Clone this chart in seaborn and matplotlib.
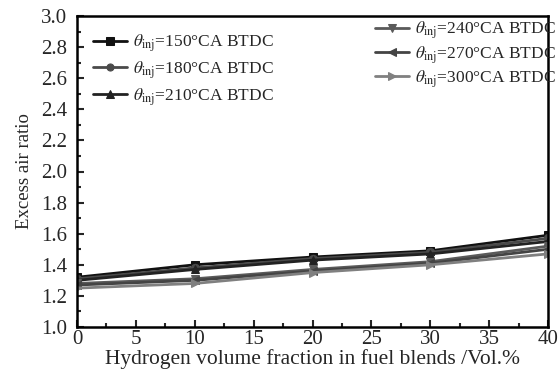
import numpy as np
import pandas as pd
import matplotlib
matplotlib.use("Agg")
import matplotlib.pyplot as plt
from matplotlib.ticker import MultipleLocator
import seaborn as sns

h2 = [0, 10, 20, 30, 40]
timings = ["150", "180", "210", "240", "270", "300"]
v150 = [1.32, 1.40, 1.45, 1.49, 1.59]
v180 = [1.31, 1.38, 1.44, 1.48, 1.57]
v210 = [1.30, 1.37, 1.43, 1.47, 1.55]
v240 = [1.28, 1.31, 1.37, 1.42, 1.52]
v270 = [1.27, 1.30, 1.36, 1.41, 1.50]
v300 = [1.25, 1.28, 1.35, 1.40, 1.47]
values = [v150, v180, v210, v240, v270, v300]

rows = []
for t, vals in zip(timings, values):
    for x, y in zip(h2, vals):
        rows.append({"h2": x, "lam": y, "t": t})
df = pd.DataFrame(rows)

sns.set_theme(style="ticks")
plt.rcParams["font.family"] = ["Liberation Serif", "DejaVu Serif"]
plt.rcParams["mathtext.fontset"] = "stix"

colors = ["#111111", "#4a4a4a", "#222222", "#5a5a5a", "#444444", "#808080"]
markers = ["s", "o", "^", "v", "<", ">"]

fig = plt.figure(figsize=(5.59, 3.73), dpi=100)
ax = fig.add_axes([77/559, 1-327/373, (548-77)/559, (327-16)/373])

handles = []
for t, c, m in zip(timings, colors, markers):
    sub = df[df["t"] == t]
    sns.lineplot(data=sub, x="h2", y="lam", ax=ax, color=c, marker=m,
                 markersize=6, linewidth=2, markeredgecolor=c, legend=False)
    handles.append(ax.lines[-1])

labels = [r"$\theta_{\mathrm{inj}}$=" + t + "°CA BTDC" for t in timings]

ax.set_xlim(0, 40)
ax.set_ylim(1.0, 3.0)
ax.xaxis.set_major_locator(MultipleLocator(5))
ax.xaxis.set_minor_locator(MultipleLocator(2.5))
ax.yaxis.set_major_locator(MultipleLocator(0.2))
ax.yaxis.set_minor_locator(MultipleLocator(0.1))
ax.tick_params(which="both", direction="in", top=False, right=False, labelsize=15)
ax.tick_params(axis="y", pad=7)
ax.tick_params(axis="x", pad=2)
ax.tick_params(which="major", length=5, width=1.5)
ax.tick_params(which="minor", length=3, width=1.5)
for s in ax.spines.values():
    s.set_linewidth(1.8)
    s.set_color("black")
ax.set_xlabel("Hydrogen volume fraction in fuel blends /Vol.%", fontsize=15.5, labelpad=0)
ax.set_ylabel("Excess air ratio", fontsize=13.5, labelpad=6)

leg1 = ax.legend(handles[:3], labels[:3], loc="upper left", frameon=False,
                 fontsize=12.5, handlelength=2.0, borderaxespad=0.5, labelspacing=0.3,
                 handletextpad=0.3, markerscale=0.85, bbox_to_anchor=(0.0, 0.997))
ax.add_artist(leg1)
ax.legend(handles[3:], labels[3:], loc="upper right", frameon=False,
          fontsize=12.5, handlelength=2.0, borderaxespad=0.0, labelspacing=0.15,
          handletextpad=0.3, markerscale=0.85, bbox_to_anchor=(1.03, 1.01))

fig.savefig("out.png", dpi=100)
